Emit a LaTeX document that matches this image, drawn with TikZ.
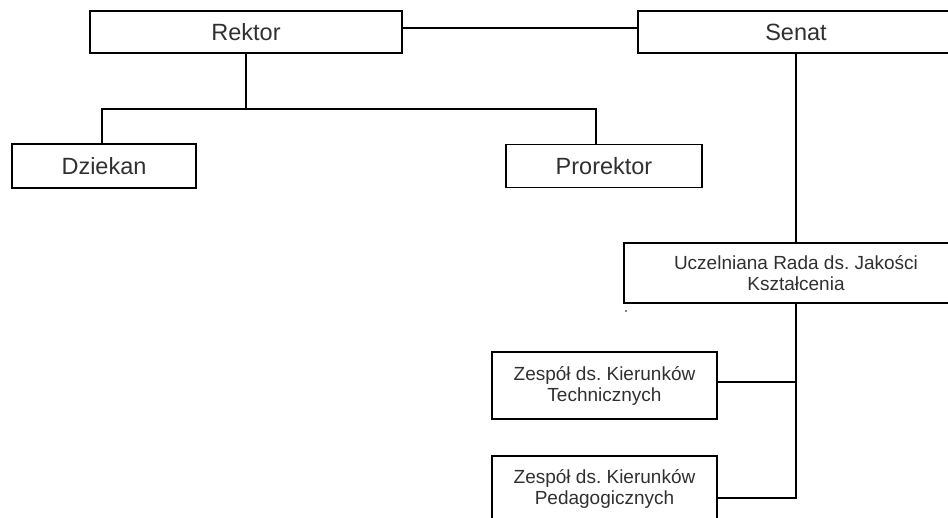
\documentclass[tikz,border=0pt]{standalone}
\usepackage{fontspec}
\setmainfont{Liberation Sans}
\frenchspacing
\definecolor{txtgray}{HTML}{303030}
\tikzset{
every picture/.style={
line width=1.1pt
}}

\begin{document}
\begin{tikzpicture}[x=1pt, y=-1pt,
block/.style = {rectangle, draw=black, line width=1.1pt, text=txtgray, inner sep=0pt, font=\fontsize{23.5}{27}\selectfont},
small/.style = {block, align=center, font=\fontsize{19}{21}\selectfont}]
\useasboundingbox (0,0) rectangle (948,518);
\node[block, minimum width=312pt, minimum height=42pt] at (246,32) (rektor) {Rektor};
\node[block, minimum width=316pt, minimum height=42pt] at (796,32) (senat) {Senat};
\node[block, minimum width=184pt, minimum height=44pt] at (104,166) (dziekan) {Dziekan};
\node[block, minimum width=196pt, minimum height=43pt] at (604,166) (prorektor) {Prorektor};
\node[small, minimum width=344pt, minimum height=60pt] at (796,273) (rada) {Uczelniana Rada ds. Jakości\\Kształcenia};
\node[small, minimum width=225pt, minimum height=67pt] at (604.5,385.5) (zt) {Zespół ds. Kierunków\\Technicznych};
\node[small, minimum width=225pt, minimum height=66pt] at (604.5,489) (zp) {Zespół ds. Kierunków\\Pedagogicznych};
\coordinate (rbus) at (246,109);
\coordinate (t1) at (796,382);
\coordinate (t2) at (796,498);
% \node at (626,311) {.};
\fill (626,311) circle (0.8pt);

\draw ([yshift=4pt]rektor.east) -- ([yshift=4pt]senat.west);
\draw (rektor.south) -- (rbus);
\draw ([xshift=-2pt]dziekan.north) |- (rbus) -| ([xshift=-8pt]prorektor.north);
\draw (senat.south) -- (rada.north);
\draw (rada.south) -- (t2) -- (zp.east |- t2);
\draw (zt.east |- t1) -- (t1);

\end{tikzpicture}
\end{document}
